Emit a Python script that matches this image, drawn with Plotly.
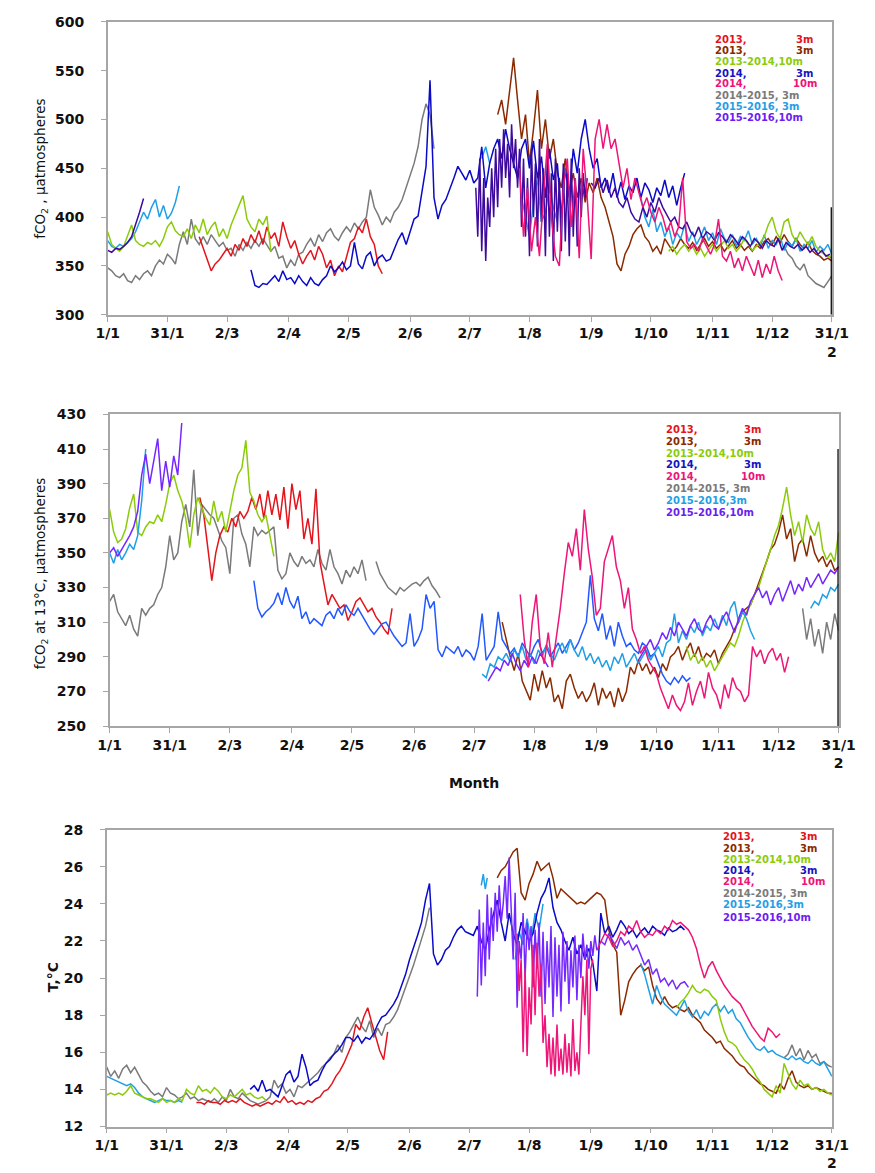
import plotly.graph_objects as go

W, H = 875, 1173

# ---------------- tick labels ----------------
TICK_DAYS = [0, 30, 60, 91, 121, 152, 182, 212, 243, 273, 304, 334, 364]
TICK_TEXT = ["1/1", "31/1", "2/3", "2/4", "2/5", "2/6", "2/7", "1/8", "1/9", "1/10", "1/11", "1/12", "31/1<br>2"]

# ---------------- colours ----------------
RED = "#E3141B"; BROWN = "#8B2A00"; GREEN = "#8CCB0A"; BLUE = "#0A0AC8"; BLUE2 = "#2458FF"
PINK = "#EE1478"; GRAY = "#7A7A7A"; CYAN = "#1FA0E6"; PURPLE1 = "#3E0A9E"; PURPLE = "#7428FF"

# ================= PANEL 1 : fCO2 =================
p1_red_start = 46
p1_red = [380, 368, 358, 345, 352, 356, 362, 368, 360, 372, 366, 378, 370, 382, 374, 386, 372, 390, 378, 384,
          370, 395, 380, 368, 376, 362, 352, 360, 366, 356, 370, 362, 348, 356, 340, 350, 344, 360, 374, 378,
          390, 384, 398, 380, 372, 350, 342]
p1_brown_start = 196
p1_brown = [505, 520, 495, 530, 563, 520, 480, 505, 455, 490, 530, 470, 500, 460, 480, 445, 430, 460, 425, 445,
            420, 440, 415, 435, 425, 440, 420, 410, 395, 380, 352, 345, 362, 370, 382, 388, 392, 380, 375, 365,
            370, 362, 378, 372, 365, 370, 378, 372, 368, 374, 366, 372, 378, 370, 375, 368, 372, 365, 370, 376,
            368, 372, 366, 370, 365, 372, 368, 375, 378, 372, 380, 374, 382, 375, 370, 378, 372, 368, 374, 366,
            362, 360, 356, 358, 355]
p1_green_a_start = 0
p1_green_a = [385, 372, 368, 365, 370, 380, 392, 376, 372, 370, 374, 372, 376, 370, 378, 390, 395, 386, 382, 380,
              388, 378, 392, 384, 398, 382, 390, 395, 380, 388, 378, 392, 402, 410, 422, 398, 390, 385, 398, 392,
              401, 365]
p1_green_b_start = 282
p1_green_b = [365, 370, 362, 368, 372, 365, 370, 362, 368, 360, 366, 372, 365, 370, 376, 368, 372, 365, 370, 378,
              372, 366, 370, 374, 380, 392, 400, 385, 378, 395, 398, 382, 375, 385, 378, 372, 380, 370, 365, 362,
              360, 358]
p1_blue_start = 72
p1_blue = [346, 330, 328, 332, 331, 336, 340, 334, 345, 336, 338, 332, 340, 334, 330, 338, 332, 330, 336, 340,
           350, 344, 348, 354, 346, 350, 374, 352, 347, 360, 364, 350, 358, 361, 355, 357, 368, 377, 384, 372,
           385, 398, 401, 425, 452, 540, 420, 398, 412, 418, 428, 440, 452, 445, 438, 448, 435, 440, 472, 430,
           455, 470, 480, 460, 490, 470, 455, 440, 470, 480, 450, 478, 440, 462, 420, 470, 438, 455, 400, 450,
           420, 470, 445, 480, 500, 470, 450, 460, 430, 440, 425, 445, 420, 436, 418, 432, 425, 440, 420, 435,
           428, 415, 430, 422, 438, 420, 432, 412, 430, 445]
p1_pink_start = 207
p1_pink = [450, 380, 430, 365, 400, 360, 420, 475, 400, 360, 350, 430, 460, 390, 440, 358, 470, 420, 357, 480,
           500, 470, 495, 470, 480, 455, 430, 450, 418, 440, 425, 410, 420, 405, 395, 410, 400, 385, 395, 380,
           390, 440, 375, 368, 372, 365, 378, 370, 362, 372, 398, 360, 355, 365, 348, 358, 345, 360, 350, 340,
           356, 338, 352, 342, 360, 345, 335]
p1_gray_a_start = 0
p1_gray_a = [348, 345, 340, 338, 342, 335, 333, 340, 336, 342, 345, 340, 350, 356, 352, 362, 358, 352, 372, 385,
             372, 398, 378, 372, 380, 372, 382, 376, 370, 374, 366, 368, 360, 372, 366, 374, 368, 376, 370, 378,
             372, 365, 370, 358, 360, 348, 356, 350, 362, 364, 372, 378, 370, 382, 375, 384, 388, 380, 376, 384,
             390, 385, 394, 388, 395, 400, 428, 410, 402, 392, 400, 395, 405, 410, 418, 430, 441, 455, 472, 500,
             516, 505, 470]
p1_gray_b_start = 340
p1_gray_b = [370, 362, 358, 350, 346, 352, 340, 336, 332, 330, 328, 334, 340]
p1_cyan_a_start = 0
p1_cyan_a = [376, 370, 368, 372, 370, 374, 378, 385, 395, 405, 398, 410, 418, 400, 412, 398, 404, 415, 432]
p1_cyan_b_start = 188
p1_cyan_b = [460, 472, 455]
p1_cyan_c_start = 208
p1_cyan_c = [420, 400, 380, 415, 440, 395, 405, 430, 410, 395]
p1_cyan_d_start = 268
p1_cyan_d = [420, 400, 390, 408, 385, 395, 380, 390, 372, 384, 378, 392, 375, 385, 372, 380, 390, 376, 384, 372,
             388, 378, 374, 382, 370, 380, 376, 386, 372, 378, 370, 382, 368, 376, 372, 380, 366, 374, 370, 378,
             365, 372, 368, 376, 364, 370, 366, 372, 362]
p1_purple_a_start = 0
p1_purple_a = [366, 364, 368, 367, 370, 374, 380, 392, 405, 419]
p1_purple_b_start = 185
p1_purple_b = [430, 380, 460, 365, 440, 355, 420, 390, 450, 400, 470, 410, 480, 430, 490, 440, 475, 420, 495, 450,
               480, 430, 470, 390, 460, 380, 440, 360, 470, 400, 455, 370, 480, 395, 450, 360, 470, 380, 445, 355,
               460, 385, 440, 365, 455, 375, 445, 360, 460, 380, 440, 370, 450, 400, 445, 420, 440]
p1_purple_c_start = 243
p1_purple_c = [435, 430, 440, 425, 438, 420, 430, 415, 410, 420, 405, 398, 395, 410, 400, 415, 405, 420, 410, 402,
               395, 400, 390, 388, 395, 385, 380, 390, 378, 385, 382, 376, 384, 380, 374, 382, 378, 372, 380, 376,
               370, 378, 374, 368, 376, 372, 370, 378, 366, 374, 370, 368, 372, 366, 370, 364, 368, 362, 366, 360,
               362]
p1_black = [300, 410]

# ================= PANEL 2 : fCO2 at 13 C =================
p2_red_start = 45
p2_red = [382, 372, 353, 334, 350, 360, 365, 362, 370, 365, 374, 370, 374, 382, 375, 384, 370, 386, 372, 384,
          369, 388, 364, 390, 375, 386, 358, 370, 355, 387, 345, 332, 320, 326, 322, 318, 320, 311, 316, 322,
          324, 320, 316, 318, 313, 310, 306, 303, 318]
p2_brown_start = 196
p2_brown = [310, 300, 290, 282, 292, 276, 270, 265, 280, 270, 282, 272, 278, 264, 268, 260, 276, 280, 272, 266,
            270, 264, 268, 275, 262, 272, 266, 270, 261, 272, 264, 270, 284, 280, 288, 282, 286, 280, 284, 278,
            286, 282, 290, 292, 296, 288, 294, 298, 290, 296, 288, 292, 290, 294, 286, 292, 296, 300, 306, 310,
            316, 318, 320, 326, 332, 338, 345, 352, 355, 362, 372, 358, 364, 345, 355, 358, 348, 360, 350, 345,
            348, 342, 346, 340, 342]
p2_green_a_start = 0
p2_green_a = [375, 362, 356, 358, 364, 376, 384, 362, 360, 365, 368, 367, 372, 368, 378, 390, 395, 386, 380, 370,
              353, 372, 382, 376, 370, 366, 380, 368, 374, 362, 374, 386, 395, 399, 415, 385, 380, 372, 368, 372,
              360, 348]
p2_green_b_start = 288
p2_green_b = [296, 288, 292, 286, 290, 284, 288, 282, 286, 290, 294, 298, 296, 302, 310, 316, 320, 326, 330, 338,
              345, 352, 360, 366, 376, 388, 372, 360, 368, 356, 372, 364, 360, 368, 352, 346, 350, 345, 362]
p2_blue_start = 72
p2_blue = [334, 318, 313, 316, 318, 321, 327, 320, 330, 322, 318, 325, 312, 316, 309, 312, 310, 308, 314, 316,
           312, 318, 314, 320, 316, 314, 318, 314, 310, 306, 303, 306, 309, 310, 306, 302, 299, 296, 298, 315,
           296, 300, 306, 326, 318, 322, 294, 290, 296, 294, 292, 296, 290, 294, 292, 288, 296, 315, 288, 292,
           296, 316, 300, 296, 292, 295, 290, 298, 294, 290, 296, 300, 292, 296, 290, 294, 298, 292, 296, 300,
           294, 298, 304, 310, 337, 312, 305, 315, 300, 308, 296, 310, 302, 296, 298, 294, 292, 298, 296, 290,
           292, 286, 280, 276, 274, 278, 275, 279, 276, 278]
p2_pink_start = 205
p2_pink = [326, 300, 284, 310, 326, 296, 286, 304, 284, 300, 318, 338, 356, 348, 364, 340, 375, 352, 336, 314,
           318, 345, 353, 360, 342, 334, 318, 330, 306, 300, 292, 296, 288, 284, 280, 272, 266, 260, 268, 262,
           259, 264, 275, 262, 270, 276, 266, 281, 272, 268, 260, 274, 266, 278, 272, 270, 264, 268, 296, 290,
           294, 286, 292, 295, 288, 292, 281, 290]
p2_gray_a_start = 0
p2_gray_a = [322, 326, 316, 312, 308, 314, 306, 302, 318, 314, 318, 320, 326, 330, 342, 360, 346, 350, 368, 378,
             365, 398, 360, 378, 375, 372, 370, 363, 357, 353, 338, 370, 372, 361, 355, 342, 365, 360, 363, 361,
             363, 365, 340, 335, 338, 350, 345, 342, 348, 344, 346, 342, 352, 344, 340, 352, 342, 338, 332, 340,
             336, 342, 338, 346, 334]
p2_gray_b_start = 133
p2_gray_b = [345, 338, 334, 330, 328, 326, 330, 328, 330, 332, 333, 331, 334, 336, 331, 328, 324]
p2_gray_c_start = 346
p2_gray_c = [318, 300, 312, 296, 306, 292, 310, 300, 315, 305]
p2_cyan_a_start = 0
p2_cyan_a = [350, 344, 352, 346, 350, 355, 352, 360, 380, 410]
p2_cyan_b_start = 186
p2_cyan_b = [280, 278, 286, 284, 290, 288, 292, 287, 294, 290, 296, 288, 292, 286, 294, 290, 297, 292, 288, 294,
             298, 292, 300, 294, 290, 296, 288, 292, 286, 290, 284, 288, 282, 290, 286, 292, 284, 288, 292, 286,
             290, 294, 288, 292, 296, 290, 298, 300, 315, 298, 305, 300, 308, 304, 310, 302, 308, 305, 312, 306,
             314, 308, 318, 322, 310, 316, 312, 305, 300]
p2_cyan_c_start = 350
p2_cyan_c = [318, 322, 320, 326, 324, 330, 328, 332]
p2_purple_a_start = 0
p2_purple_a = [350, 353, 348, 352, 356, 360, 365, 374, 395, 407, 390, 402, 416, 386, 403, 388, 406, 395, 425]
p2_purple_b_start = 189
p2_purple_b = [276, 280, 284, 282, 288, 285, 292, 286, 282, 288, 284, 290, 286, 292, 288, 284]
p2_purple_c_start = 264
p2_purple_c = [288, 292, 296, 300, 294, 298, 304, 300, 307, 302, 310, 306, 302, 308, 312, 306, 304, 310, 314, 308,
               306, 312, 316, 310, 304, 312, 318, 314, 322, 326, 330, 324, 328, 320, 326, 330, 322, 328, 334, 326,
               332, 328, 336, 330, 334, 338, 332, 336, 340, 338, 342]
p2_black = [250, 410]

# ================= PANEL 3 : temperature =================
p3_red_start = 45
p3_red = [13.3, 13.3, 13.2, 13.4, 13.3, 13.3, 13.2, 13.4, 13.3, 13.4, 13.3, 13.5, 13.3, 13.2, 13.1, 13.2, 13.1,
          13.2, 13.3, 13.2, 13.4, 13.3, 13.6, 13.3, 13.4, 13.2, 13.3, 13.2, 13.4, 13.3, 13.5, 13.6, 13.9, 14.0,
          14.3, 14.7, 15.0, 15.4, 15.9, 16.4, 17.5, 17.2, 17.9, 18.4, 17.6, 16.8, 16.1, 15.6, 17.1]
p3_brown_start = 196
p3_brown = [25.4, 25.8, 26.0, 26.4, 26.8, 27.0, 24.6, 24.2, 25.1, 25.6, 26.3, 25.8, 26.0, 26.2, 25.4, 24.3, 24.8,
            24.6, 24.4, 24.2, 24.0, 24.1, 24.0, 24.2, 24.4, 24.6, 24.5, 24.2, 22.6, 21.8, 21.4, 18.0, 18.8, 19.8,
            20.2, 20.5, 20.7, 20.4, 20.6, 19.6, 18.9, 18.6, 19.0, 18.6, 18.4, 18.5, 18.3, 18.2, 18.4, 18.0, 17.8,
            17.6, 17.2, 17.0, 16.8, 16.5, 16.6, 16.2, 16.0, 15.8, 15.5, 15.3, 15.2, 14.9, 14.7, 14.5, 14.3, 14.2,
            14.0, 13.9, 13.8, 14.3, 14.0, 14.6, 15.0, 14.4, 14.2, 14.1, 14.2, 14.0, 14.1, 14.0, 13.9, 13.8, 13.8]
p3_green_a_start = 0
p3_green_a = [13.7, 13.8, 13.7, 13.8, 13.7, 13.9, 14.2, 13.8, 13.7, 13.6, 13.5, 13.5, 13.4, 13.3, 13.5, 13.3, 13.4,
              13.3, 13.5, 13.4, 14.0, 13.8, 13.7, 14.2, 13.9, 14.0, 13.8, 14.1, 13.9, 13.6, 13.5, 13.7, 13.6, 13.8,
              14.0, 13.7, 13.8, 13.6, 13.5, 13.6, 13.4]
p3_green_b_start = 286
p3_green_b = [18.4, 18.7, 18.9, 19.2, 19.6, 19.3, 19.2, 19.4, 19.3, 19.0, 18.8, 17.8, 17.1, 16.6, 16.5, 16.3, 15.9,
              15.6, 15.4, 15.1, 14.7, 14.4, 14.0, 13.8, 13.6, 14.2, 13.8, 15.4, 14.8, 14.3, 14.0, 14.5, 14.2, 14.3,
              14.0, 14.1, 13.9, 14.0, 13.8, 13.7]
p3_blue_start = 72
p3_blue = [14.0, 14.2, 13.9, 14.5, 13.9, 14.0, 13.8, 13.6, 14.2, 14.8, 15.0, 14.4, 14.7, 15.9, 15.2, 14.2, 14.4,
           14.5, 15.0, 15.4, 15.6, 15.9, 16.1, 16.4, 16.8, 16.8, 16.6, 16.9, 16.5, 16.8, 16.7, 17.0, 17.5, 17.9,
           18.0, 18.3, 18.6, 19.0, 19.6, 20.2, 21.0, 21.6, 22.3, 23.0, 24.2, 25.1, 21.3, 20.7, 21.0, 21.5, 21.7,
           22.2, 22.6, 22.8, 22.5, 22.4, 22.3, 22.8, 22.0, 21.5, 22.6, 23.4, 24.2, 23.0, 22.0, 23.5, 22.4, 21.8,
           23.0, 22.5, 22.0, 22.4, 23.5, 24.3, 24.7, 25.4, 23.8, 23.0, 22.6, 22.0, 21.5, 22.2, 21.3, 21.8, 21.0,
           21.6, 20.8, 19.3, 23.5, 22.4, 22.8, 22.2, 22.6, 23.1, 22.8, 22.4, 22.6, 22.2, 22.5, 22.7, 22.4, 22.8,
           22.6, 22.5, 22.3, 22.7, 22.5, 22.6, 22.8, 22.6]
p3_pink_a_start = 206
p3_pink_a = [22.4, 19.3, 21.0, 16.0, 20.5, 15.8, 19.5, 17.5, 21.8, 18.0, 21.9, 19.0, 20.8, 16.5, 18.0, 15.2, 17.0,
             14.8, 16.8, 14.7, 17.5, 15.0, 16.2, 14.8, 17.0, 14.9, 16.5, 14.7, 17.8, 15.0, 16.0, 14.8, 17.5, 20.1,
             18.0, 21.0, 15.9, 20.5, 21.0]
p3_pink_b_start = 246
p3_pink_b = [21.5, 22.0, 22.4, 22.2, 21.7, 22.0, 22.5, 22.3, 22.8, 22.6, 23.1, 22.5, 22.2, 22.4, 22.3, 22.6, 22.4,
             22.8, 22.6, 23.1, 22.9, 23.0, 22.8, 22.6, 22.2, 21.6, 20.7, 20.0, 20.6, 20.9, 20.4, 20.0, 19.6, 19.3,
             19.0, 18.8, 18.6, 18.2, 17.8, 17.4, 17.1, 16.8, 16.6, 17.3, 17.1, 16.8, 17.0]
p3_gray_a_start = 0
p3_gray_a = [15.2, 14.7, 15.0, 14.6, 15.1, 15.3, 14.9, 15.2, 14.8, 14.4, 14.2, 13.9, 13.7, 13.8, 13.6, 14.1, 13.8,
             13.7, 13.5, 13.6, 13.8, 13.5, 13.6, 13.4, 13.5, 13.4, 13.3, 13.5, 13.3, 13.6, 13.4, 14.0, 13.6, 13.5,
             13.8, 13.6, 13.4, 13.3, 13.2, 13.3, 13.4, 13.6, 14.5, 14.1, 14.3, 13.8, 14.0, 13.6, 14.2, 14.1, 14.3,
             14.5, 14.7, 14.9, 15.2, 15.4, 15.7, 15.9, 16.4, 16.0, 16.8, 17.1, 17.5, 17.9, 17.4, 17.1, 17.7, 16.8,
             17.3, 16.9, 17.5, 17.6, 17.9, 18.3, 18.9, 19.5, 20.0, 20.7, 21.4, 22.1, 22.8, 23.8]
p3_gray_b_start = 340
p3_gray_b = [15.7, 15.9, 16.4, 15.8, 16.2, 15.6, 16.1, 15.7, 15.9, 15.4, 15.5, 15.3, 15.2]
p3_cyan_a_start = 0
p3_cyan_a = [14.7, 14.6, 14.5, 14.4, 14.3, 14.2, 14.3, 14.1, 13.8, 13.6, 13.5, 13.4, 13.3, 13.4, 13.5, 13.4, 13.4,
             13.3, 13.4, 13.3]
p3_cyan_b_start = 188
p3_cyan_b = [25.0, 25.6, 24.8, 25.4]
p3_cyan_c_start = 205
p3_cyan_c = [21.0, 22.5, 21.8, 23.2, 22.0, 23.5, 22.6, 24.0]
p3_cyan_d_start = 268
p3_cyan_d = [20.8, 20.2, 19.4, 18.6, 19.6, 19.0, 18.6, 18.4, 18.2, 18.0, 18.4, 18.8, 18.2, 17.9, 18.3, 17.8, 18.2,
             18.0, 18.4, 18.6, 18.2, 18.5, 18.1, 18.3, 17.8, 17.6, 17.2, 16.8, 16.5, 16.2, 16.1, 16.3, 16.0, 16.1,
             15.9, 15.8, 15.7, 15.6, 15.8, 15.6, 15.7, 15.5, 15.4, 15.6, 15.4, 15.3, 15.5, 15.1, 14.7]
p3_purple_a_start = 186
p3_purple_a = [19.0, 23.7, 19.6, 23.0, 20.1, 24.5, 21.0, 23.8, 22.0, 24.6, 22.5, 25.0, 23.0, 24.0, 25.5, 23.2, 26.5,
               24.0, 21.0, 24.6, 18.4, 22.0, 21.0, 23.5, 20.0, 23.0, 21.5, 22.8, 19.5, 22.6, 20.5, 23.0, 19.0, 22.5,
               18.6, 22.0, 19.5, 22.8, 17.9, 22.2, 19.0, 21.8, 18.2, 22.5, 19.8, 22.0, 18.6, 21.5, 19.5, 22.3, 18.8,
               21.8, 20.0, 22.4, 21.0, 21.8, 20.5, 22.0, 21.2, 22.3, 21.5]
p3_purple_b_start = 248
p3_purple_b = [22.0, 21.8, 22.4, 22.0, 21.6, 22.2, 21.8, 22.0, 21.5, 21.8, 21.3, 20.7, 21.0, 20.2, 20.5, 19.8, 20.0,
               19.6, 19.9, 19.4, 19.7, 19.8, 19.5]

LEGEND_LEFT = ["2013,", "2013,", "2013-2014,10m", "2014,", "2014,", "2014-2015, 3m", "2015-2016, 3m", "2015-2016,10m"]
LEGEND_LEFT_23 = ["2013,", "2013,", "2013-2014,10m", "2014,", "2014,", "2014-2015, 3m", "2015-2016,3m", "2015-2016,10m"]
LEGEND_RIGHT = ["3m", "3m", "", "3m", "10m", "", "", ""]
LEGEND_COLORS = [RED, BROWN, GREEN, "#1414C0", PINK, GRAY, CYAN, "#6A1EF0"]


def fx(px):
    return px / W


def fy(py):
    return 1 - py / H


fig = go.Figure()
LW = 1.5


def add(vals, start, color, axis, step=2, width=LW):
    xs = [start + step * i for i in range(len(vals))]
    fig.add_trace(go.Scatter(x=xs, y=vals, mode="lines", line=dict(color=color, width=width),
                             xaxis="x" + axis, yaxis="y" + axis, showlegend=False, hoverinfo="skip"))


# panel 1
add(p1_gray_a, p1_gray_a_start, GRAY, "")
add(p1_gray_b, p1_gray_b_start, GRAY, "")
add(p1_red, p1_red_start, RED, "")
add(p1_brown, p1_brown_start, BROWN, "")
add(p1_cyan_a, p1_cyan_a_start, CYAN, "")
add(p1_cyan_b, p1_cyan_b_start, CYAN, "")
add(p1_cyan_c, p1_cyan_c_start, CYAN, "")
add(p1_cyan_d, p1_cyan_d_start, CYAN, "")
add(p1_green_a, p1_green_a_start, GREEN, "")
add(p1_green_b, p1_green_b_start, GREEN, "")
add(p1_blue, p1_blue_start, BLUE, "")
add(p1_purple_a, p1_purple_a_start, PURPLE1, "")
add(p1_purple_b, p1_purple_b_start, PURPLE1, "", step=1)
add(p1_purple_c, p1_purple_c_start, PURPLE1, "")
add(p1_pink, p1_pink_start, PINK, "")
fig.add_trace(go.Scatter(x=[364, 364], y=p1_black, mode="lines", line=dict(color="black", width=2.5),
                         xaxis="x", yaxis="y", showlegend=False, hoverinfo="skip"))

# panel 2
add(p2_gray_a, p2_gray_a_start, GRAY, "2")
add(p2_gray_b, p2_gray_b_start, GRAY, "2")
add(p2_gray_c, p2_gray_c_start, GRAY, "2")
add(p2_red, p2_red_start, RED, "2")
add(p2_brown, p2_brown_start, BROWN, "2")
add(p2_green_a, p2_green_a_start, GREEN, "2")
add(p2_green_b, p2_green_b_start, GREEN, "2")
add(p2_blue, p2_blue_start, BLUE2, "2")
add(p2_cyan_a, p2_cyan_a_start, CYAN, "2")
add(p2_cyan_b, p2_cyan_b_start, CYAN, "2")
add(p2_cyan_c, p2_cyan_c_start, CYAN, "2")
add(p2_purple_a, p2_purple_a_start, PURPLE, "2")
add(p2_purple_b, p2_purple_b_start, PURPLE, "2")
add(p2_purple_c, p2_purple_c_start, PURPLE, "2")
add(p2_pink, p2_pink_start, PINK, "2")
fig.add_trace(go.Scatter(x=[364, 364], y=p2_black, mode="lines", line=dict(color="black", width=2.5),
                         xaxis="x2", yaxis="y2", showlegend=False, hoverinfo="skip"))

# panel 3
add(p3_gray_a, p3_gray_a_start, GRAY, "3")
add(p3_gray_b, p3_gray_b_start, GRAY, "3")
add(p3_red, p3_red_start, RED, "3")
add(p3_brown, p3_brown_start, BROWN, "3")
add(p3_cyan_a, p3_cyan_a_start, CYAN, "3")
add(p3_cyan_b, p3_cyan_b_start, CYAN, "3", step=1)
add(p3_cyan_c, p3_cyan_c_start, CYAN, "3")
add(p3_cyan_d, p3_cyan_d_start, CYAN, "3")
add(p3_green_a, p3_green_a_start, GREEN, "3")
add(p3_green_b, p3_green_b_start, GREEN, "3")
add(p3_blue, p3_blue_start, BLUE, "3")
add(p3_purple_a, p3_purple_a_start, PURPLE, "3", step=1)
add(p3_purple_b, p3_purple_b_start, PURPLE, "3")
add(p3_pink_a, p3_pink_a_start, PINK, "3", step=1)
add(p3_pink_b, p3_pink_b_start, PINK, "3")

TICKFONT = dict(family="DejaVu Sans", size=14, color="#111111", weight="bold")
AXLINE = dict(showline=True, mirror=True, linecolor="#A6A6A6", linewidth=1.5, showgrid=False, zeroline=False,
              ticks="outside", ticklen=5, tickcolor="#A6A6A6", tickwidth=1, tickfont=TICKFONT)


def xaxis(domain, anchor):
    return dict(domain=domain, anchor=anchor, range=[0, 364], tickmode="array", tickvals=TICK_DAYS,
                ticktext=TICK_TEXT, ticklabelstandoff=0, **AXLINE)


def yaxis(domain, anchor, rng, dtick):
    return dict(domain=domain, anchor=anchor, range=rng, dtick=dtick, tick0=rng[0], ticklabelstandoff=14, **AXLINE)


fig.update_layout(
    width=W, height=H, margin=dict(l=0, r=0, t=0, b=0), autosize=False,
    paper_bgcolor="white", plot_bgcolor="white",
    xaxis=xaxis([fx(99), fx(848)], "y"),
    yaxis=yaxis([fy(311), fy(14)], "x", [300, 600], 50),
    xaxis2=xaxis([fx(101), fx(855)], "y2"),
    yaxis2=yaxis([fy(728), fy(412)], "x2", [250, 430], 20),
    xaxis3=xaxis([fx(98), fx(848)], "y3"),
    yaxis3=yaxis([fy(1134), fy(833)], "x3", [12, 28], 2),
)

ann = []
TITLEFONT = dict(family="DejaVu Sans", size=13.5, color="#111111")
ann.append(dict(text="fCO<sub>2</sub> , µatmospheres", x=fx(30), y=fy(163), xref="paper", yref="paper",
                textangle=-90, showarrow=False, font=TITLEFONT, xanchor="center", yanchor="middle"))
ann.append(dict(text="fCO<sub>2</sub> at 13°C, µatmospheres", x=fx(30), y=fy(573), xref="paper", yref="paper",
                textangle=-90, showarrow=False, font=TITLEFONT, xanchor="center", yanchor="middle"))
ann.append(dict(text="T,°C", x=fx(42), y=fy(983), xref="paper", yref="paper", textangle=-90, showarrow=False,
                font=dict(family="DejaVu Sans", size=14, color="#111111", weight="bold"),
                xanchor="center", yanchor="middle"))
ann.append(dict(text="Month", x=fx(478), y=fy(786), xref="paper", yref="paper", showarrow=False,
                font=dict(family="DejaVu Sans", size=14, color="#111111", weight="bold"),
                xanchor="center", yanchor="middle"))

LEGFONT = 10


def legend(left_x, r3, r10, ys, lefts):
    for i, (lt, rt, col, yy) in enumerate(zip(lefts, LEGEND_RIGHT, LEGEND_COLORS, ys)):
        f = dict(family="DejaVu Sans", size=LEGFONT, color=col, weight="bold")
        ann.append(dict(text=lt, x=fx(left_x), y=fy(yy), xref="paper", yref="paper", showarrow=False,
                        xanchor="left", yanchor="middle", font=f, borderpad=0))
        if rt:
            ann.append(dict(text=rt, x=fx(r3 if rt == "3m" else r10), y=fy(yy), xref="paper", yref="paper",
                            showarrow=False, xanchor="right", yanchor="middle", font=f, borderpad=0))


legend(726, 829, 834, [32, 43, 54, 66, 77, 89, 100, 111], LEGEND_LEFT)
legend(675, 776, 780, [427, 439, 452, 463, 475, 487, 499, 511], LEGEND_LEFT_23)
legend(734, 834, 842, [840, 852, 863, 874, 886, 898, 909, 922], LEGEND_LEFT_23)

fig.update_layout(annotations=ann)
fig.write_html("out.html", config={"responsive": False},
               post_script="document.body.style.margin='0';document.body.style.overflow='hidden';")
